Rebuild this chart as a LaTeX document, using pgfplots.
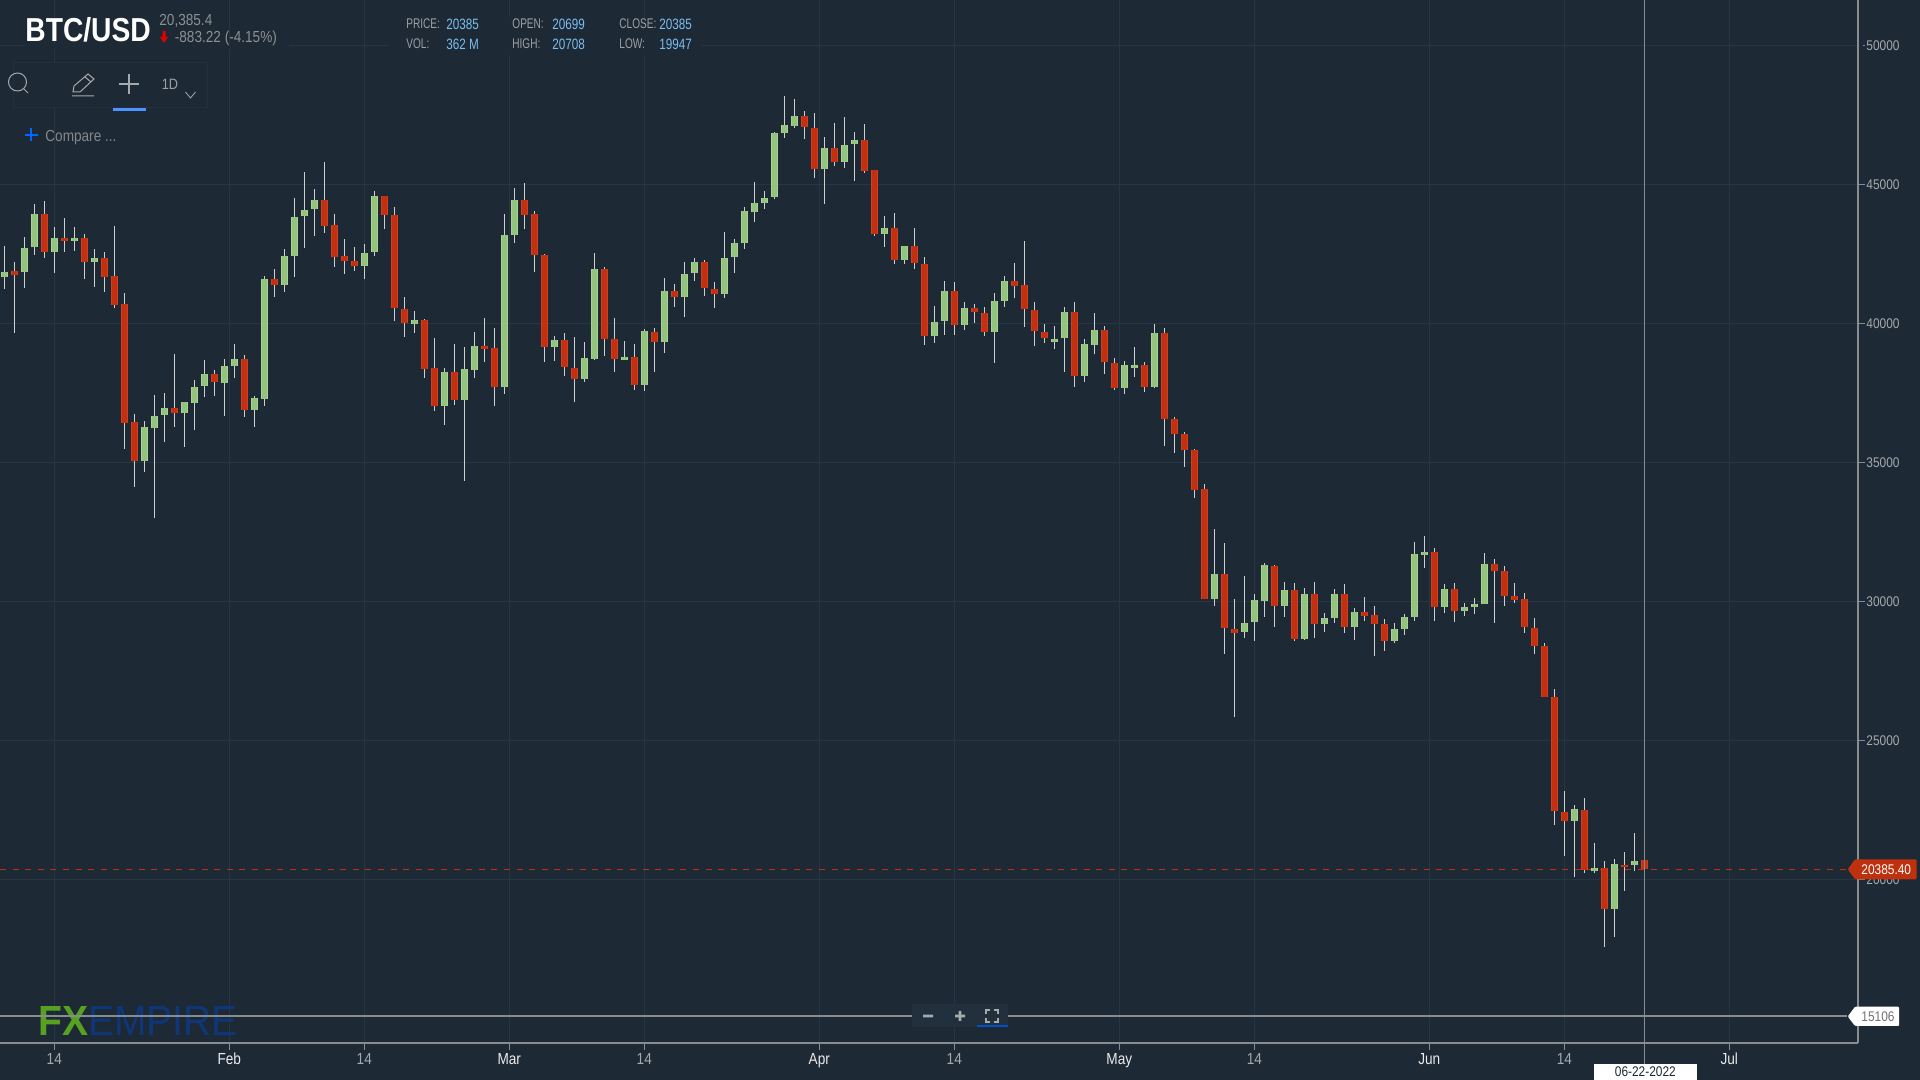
\documentclass[border=0pt]{standalone}
\usepackage{fontspec}
\usepackage{pgfplots}
\usepackage{pgfplotstable}
\usepackage{graphicx}
\pgfplotsset{compat=1.18}
\setmainfont[FakeStretch=0.85]{Liberation Sans}
\newfontfamily\narrowA[FakeStretch=0.72]{Liberation Sans}
\newfontfamily\narrowB[FakeStretch=0.78]{Liberation Sans}
\definecolor{bg}{RGB}{29,41,53}
\definecolor{gridc}{RGB}{38,54,66}
\definecolor{axisc}{RGB}{135,140,145}
\definecolor{upE}{RGB}{172,208,150}
\definecolor{upF}{RGB}{147,196,125}
\definecolor{dnE}{RGB}{214,60,30}
\definecolor{dnF}{RGB}{194,48,16}
\definecolor{wick}{RGB}{205,208,208}
\definecolor{tagred}{RGB}{190,48,14}
\definecolor{labgr}{RGB}{165,170,172}
\definecolor{valbl}{RGB}{125,190,240}
\definecolor{panel}{RGB}{34,47,60}
\definecolor{logog}{RGB}{88,160,32}
\definecolor{logob}{RGB}{15,55,120}
% i open close high low
\pgfplotstableread{
i open close high low
0 41667 41871 42795 41235
2 41847 42735 43107 41283
3 42747 43947 44295 42483
5 42567 43095 43467 41823
7 42987 43095 43467 42627
9 42207 42375 42675 41331
14 35067 36291 36495 34671
15 36267 36699 37443 32997
16 36723 36975 37527 35751
18 36807 37191 37191 35571
19 37167 37731 37995 36195
20 37755 38187 38715 37371
22 37887 38499 38751 36687
23 38487 38727 39255 38043
25 36915 37323 37395 36291
26 37311 41607 41727 37047
28 41403 42423 42675 41151
29 42447 43851 44511 41691
30 43887 44079 45447 42711
31 44115 44439 44835 43167
36 42087 42555 42855 41607
37 42579 44583 44787 42447
41 39999 40119 40455 39663
44 37047 38271 38427 36375
46 37263 38367 39159 34347
47 38343 39219 39699 38043
50 37719 43179 43935 37491
51 43203 44439 44883 42891
55 39159 39399 39567 38667
58 38019 38775 39339 37911
59 38751 41967 42543 38703
62 38703 38823 39387 38703
64 37803 39723 39795 37587
66 39338 41162 41630 38942
68 40958 41786 42218 40250
69 41810 42230 42362 41546
72 41054 42374 43298 40922
73 42398 42914 43034 41822
74 42890 44042 44198 42674
75 44018 44354 45098 43670
76 44330 44534 44786 44114
77 44558 46874 46898 44474
78 46850 47138 48194 46682
79 47126 47462 48074 47042
82 45554 46322 46718 44294
84 45818 46418 47438 45602
85 46454 46598 46898 45146
88 43214 43454 43886 42770
90 42278 42782 42806 42134
93 39566 40070 40646 39302
94 40106 41162 41546 39614
96 39974 40562 40778 39794
99 39698 40802 41090 38582
100 40830 41526 41730 40614
105 39330 39450 39930 39078
106 39474 40434 40602 38274
108 38130 39258 39438 37914
109 39246 39762 40374 38898
112 37674 38502 38670 37458
113 38394 38502 39162 38094
115 37722 39678 39978 37674
121 30084 30984 32604 29856
124 28908 29244 30936 28692
125 29268 30048 30264 28608
126 30024 31308 31392 29460
128 29856 30408 30708 29460
130 28680 30276 30480 28644
132 29184 29424 29592 28920
133 29400 30276 30444 29232
135 29088 29640 29760 28644
139 28596 29004 29232 28512
140 29004 29460 29544 28824
141 29448 31704 32148 29316
142 31692 31800 32376 31212
144 29820 30444 30624 29592
146 29676 29820 29952 29496
147 29808 29916 30120 29544
148 29904 31344 31752 29904
157 22119 22539 22707 20103
159 20307 20427 21315 20235
161 18963 20559 20763 17943
163 20535 20691 21675 20319
}\upT
\pgfplotstableread{
i open close high low
1 41883 41763 42219 39675
4 43947 42567 44427 42363
6 43095 42987 43791 42591
8 43095 42207 43215 41595
10 42375 41679 42579 41139
11 41703 40683 43515 40551
12 40707 36447 41091 35511
13 36471 35067 36771 34131
17 36975 36807 38931 36291
21 38187 37899 38355 37407
24 38727 36915 38895 36651
27 41595 41403 41955 40971
32 44439 43527 45807 43263
33 43539 42399 43935 42051
34 42423 42267 43035 41775
35 42243 42087 42759 41907
38 44583 43923 44583 43395
39 43899 40551 44199 40107
40 40515 40011 40959 39531
42 40119 38391 40167 38043
43 38403 37047 39471 36867
45 38271 37275 39255 37083
48 39219 39099 40203 38631
49 39123 37719 39843 37047
52 44439 43923 45063 43395
53 43947 42483 44067 41871
54 42459 39159 42495 38631
56 39399 38439 39651 38127
57 38403 38019 39519 37191
60 41967 39435 42039 38847
61 39435 38751 40203 38271
63 38823 37803 39255 37635
65 39711 39339 39843 38271
67 41162 40958 41414 40610
70 42230 41270 42278 41006
71 41234 41054 41498 40562
80 47462 47078 47654 46634
81 47054 45554 47582 45230
83 46322 45818 47222 45686
86 46598 45506 47174 45422
87 45518 43214 45518 43166
89 43442 42278 43970 42134
91 42782 42170 43442 41954
92 42134 39566 42398 39254
95 41162 39974 41498 39614
97 40562 40430 40694 40022
98 40382 39698 40598 39566
101 41526 41370 42186 40914
102 41382 40518 42990 39894
103 40482 39750 40782 39210
104 39714 39474 39978 39306
107 40434 38130 40782 37734
110 39762 38622 39930 38178
111 38586 37674 38766 37626
114 38502 37722 38622 37554
116 39678 36558 39846 35610
117 36558 36018 36642 35346
118 36018 35478 36102 34854
119 35478 34038 35514 33726
120 34044 30084 34224 30084
122 30984 29040 32100 28116
123 29004 28896 30084 25860
127 31296 29856 31308 29100
129 30408 28680 30660 28596
131 30276 29184 30708 28692
134 30276 29100 30624 28872
136 29640 29496 30168 29316
137 29508 29184 29856 28056
138 29184 28596 29364 28248
143 31800 29820 31932 29316
145 30444 29676 30660 29280
149 31344 31116 31524 29232
150 31116 30216 31296 29856
151 30195 30075 30663 29955
152 30087 29091 30303 28875
153 29067 28419 29403 28107
154 28395 26571 28515 26571
155 26583 22479 26847 21987
156 22455 22119 23211 20859
158 22527 20367 22935 20235
160 20415 18963 20679 17583
162 20547 20451 20991 19599
164 20699 20385 20708 19947
}\dnT
\pgfplotsset{
  wickst/.style={draw=none,mark=none,forget plot,error bars/.cd,y dir=plus,y explicit,error mark=none,
     error bar style={draw=wick,line width=0.6pt,line cap=butt}},
  bodyst/.style={draw=none,mark=none,forget plot,error bars/.cd,y dir=plus,y explicit,error mark=none,
     error bar style={draw=#1,line width=3.3pt,line cap=butt}},
  fillst/.style={draw=none,mark=none,forget plot,error bars/.cd,y dir=plus,y explicit,error mark=none,
     error bar style={draw=#1,line width=2.3pt,line cap=butt}},
}
\begin{document}
\begin{tikzpicture}
\useasboundingbox (0,-18.5pt) rectangle (960pt,521.5pt);
\fill[bg] (0,-18.5pt) rectangle (960pt,521.5pt);
\begin{axis}[
  scale only axis, width=929pt, height=521.5pt,
  at={(0,0)}, anchor=south west,
  xmin=-0.43, xmax=185.37, ymin=14131, ymax=51647,
  axis x line*=bottom, axis y line*=right,
  axis line style={draw=axisc,line width=0.75pt},
  xtick={5,22.5,36,50.5,64,81.5,95,111.5,125,142.5,156,172.5},
  xticklabels={\textcolor{labgr}{14},Feb,\textcolor{labgr}{14},Mar,\textcolor{labgr}{14},Apr,\textcolor{labgr}{14},May,\textcolor{labgr}{14},Jun,\textcolor{labgr}{14},Jul},
  ytick={20000,25000,30000,35000,40000,45000,50000},
  scaled y ticks=false,
  grid=major,
  grid style={draw=gridc,line width=0.5pt},
  major tick length=3.5pt,
  tick align=outside,
  xtick style={draw=axisc,line width=0.4pt},
  ytick style={draw=axisc,line width=0.4pt,shorten >=2.5pt},
  xticklabel style={font=\fontsize{8}{9}\selectfont,text=white!92!black,inner sep=0pt,yshift=-1.5pt},
  yticklabel style={font=\fontsize{7}{8}\selectfont,text=labgr,inner sep=0pt,xshift=0.5pt,
     /pgf/number format/assume math mode=true,/pgf/number format/1000 sep={},/pgf/number format/fixed},
  yticklabel pos=right,
]
% last price and lower range line
\addplot[draw=tagred,line width=0.5pt,dash pattern=on 3pt off 3.3pt,forget plot] coordinates {(-0.43,20385.4)(184.3,20385.4)};
\addplot[draw=axisc,line width=0.8pt,forget plot] coordinates {(-0.43,15106)(184.3,15106)};
% wicks
\addplot[wickst] table[x=i,y=low,y error plus expr=\thisrow{high}-\thisrow{low}] {\upT};
\addplot[wickst] table[x=i,y=low,y error plus expr=\thisrow{high}-\thisrow{low}] {\dnT};
% bodies
\addplot[bodyst=upE] table[x=i,y=open,y error plus expr=\thisrow{close}-\thisrow{open}] {\upT};
\addplot[fillst=upF] table[x=i,y=open,y error plus expr=\thisrow{close}-\thisrow{open}] {\upT};
\addplot[bodyst=dnE] table[x=i,y=close,y error plus expr=\thisrow{open}-\thisrow{close}] {\dnT};
\addplot[fillst=dnF] table[x=i,y=close,y error plus expr=\thisrow{open}-\thisrow{close}] {\dnT};
\end{axis}
% interface elements, in pixels of the 1920x1080 frame
\begin{scope}[x=0.5pt,y=-0.5pt,shift={(0pt,521.5pt)}]
\tikzset{t/.style={anchor=west,inner sep=0pt}}
% masks behind header
\fill[bg] (388,17) rectangle (702,55);
\fill[bg] (25,44) rectangle (289,49);
% title block
\node[t,text=white] at (25,30) {\fontsize{16.6}{18}\selectfont\bfseries BTC/USD};
\node[t,text=labgr!85!black] at (159,21) {\fontsize{8}{9}\selectfont 20,385.4};
\node[t,text=labgr!85!black] at (174.5,38) {\fontsize{8}{9}\selectfont -883.22 (-4.15\%)};
\fill[red!90!black] (162.5,31) rectangle (165.5,37) (160,37) -- (168,37) -- (164,43) -- cycle;
% stats
\foreach \lx/\vx/\ly/\vv/\yy in {406/446/PRICE:/20385/24,512/552/OPEN:/20699/24,619/659/CLOSE:/20385/24,406/446/VOL:/362 M/44,512/552/HIGH:/20708/44,619/659/LOW:/19947/44}{
  \node[t,text=labgr!110!white] at (\lx,\yy) {\fontsize{7}{8}\selectfont\narrowA \ly};
  \node[t,text=valbl] at (\vx,\yy) {\fontsize{7.5}{8}\selectfont\narrowB \vv};
}
% toolbar
\filldraw[fill=bg,draw=panel,line width=0.5pt] (13,63) rectangle (207.5,108);
\draw[labgr,line width=0.5pt] (17.5,82) circle (9);
\draw[labgr,line width=0.5pt] (24,89) -- (28,93);
\draw[labgr,line width=0.5pt] (73,92) -- (74,86) -- (88,74) -- (94,79) -- (80,92) -- cycle (85,77) -- (91,82) (72,96) -- (94,96);
\draw[labgr,line width=0.6pt] (118.5,84) -- (139,84) (129,74) -- (129,94);
\fill[blue!60!cyan!70!white] (113,108) rectangle (146,111);
\node[text=labgr!110!white,inner sep=0pt] at (170,84) {\fontsize{7.5}{8}\selectfont 1D};
\draw[labgr,line width=0.4pt] (185.5,92) -- (190.5,98) -- (195.5,92);
\draw[blue!60!cyan,line width=1pt] (24.5,135) -- (37.5,135) (31,128.5) -- (31,141.5);
\node[t,text=labgr!80!black] at (45,138) {\fontsize{8}{9}\selectfont Compare ...};
% logo
\node[t,text=logog] at (38,1021) {\resizebox{25pt}{14.5pt}{\bfseries FX}};
\node[t,text=logob] at (88,1021) {\resizebox{74.5pt}{14.5pt}{EMPIRE}};
% redraw range line across the logo
\draw[axisc,line width=0.8pt] (0,1016) -- (300,1016);
% zoom buttons
\fill[panel] (912,1004) rectangle (1008,1027);
\fill[labgr] (923,1014.7) rectangle (933,1017.3) (955,1014.7) rectangle (965,1017.3) (958.7,1011) rectangle (961.3,1021);
\draw[labgr,line width=0.6pt] (986,1014) -- (986,1010) -- (990,1010) (994,1010) -- (998,1010) -- (998,1014) (998,1018) -- (998,1022) -- (994,1022) (990,1022) -- (986,1022) -- (986,1018);
\fill[blue!60!cyan!80!black] (977,1025) rectangle (1008,1027);
% crosshair
\draw[axisc,line width=0.5pt] (1644.3,0) -- (1644.3,1064);
\fill[white] (1594,1064) rectangle (1696.6,1080);
\node[text=bg,inner sep=0pt] at (1645.3,1072) {\fontsize{7}{8}\selectfont 06-22-2022};
% tags
\fill[tagred,rounded corners=0.5pt] (1847.7,869.3) -- (1855,859.3) -- (1916.5,859.3) -- (1916.5,879.3) -- (1855,879.3) -- cycle;
\node[t,text=white] at (1861,869.3) {\fontsize{7}{8}\selectfont 20385.40};
\fill[white,rounded corners=0.5pt] (1847.7,1016.5) -- (1855,1006.7) -- (1899,1006.7) -- (1899,1026) -- (1855,1026) -- cycle;
\node[t,text=black!55] at (1861,1016.5) {\fontsize{7}{8}\selectfont 15106};
\end{scope}
\end{tikzpicture}
\end{document}
